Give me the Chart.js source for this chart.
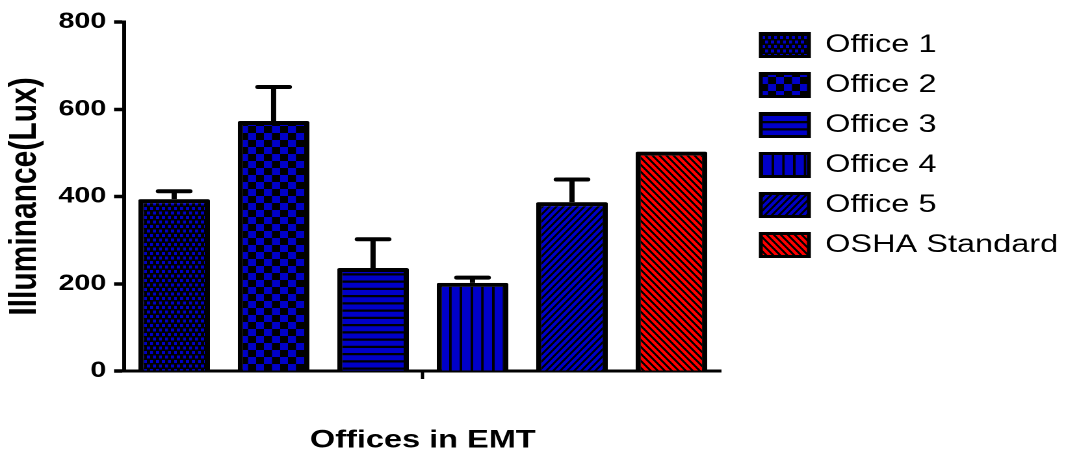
<!DOCTYPE html>
<html><head><meta charset="utf-8">
<script src="https://cdn.jsdelivr.net/npm/chart.js@4"></script>
<style>html,body{margin:0;padding:0;background:#fff;overflow:hidden}</style>
</head><body>
<canvas id="c" width="820" height="453" style="width:1066px;height:453px;display:block"></canvas>
<script>
const categories = [''];
const seriesNames = ['Office 1', 'Office 2', 'Office 3', 'Office 4', 'Office 5', 'OSHA Standard'];
const meanLux = [394, 573, 236, 202, 387, 503];
const errorLux = [18, 78, 66, 12, 52, 0];
const yTicks = [0, 200, 400, 600, 800];
const xTitle = 'Offices in EMT';
const yTitle = 'Illuminance(Lux)';

const FONT = "'Liberation Sans', Arial, sans-serif";
const BLUE = '#0000C8', BLACK = '#000000', RED = '#FF0000';
const SX = 1066 / 820;   // canvas is displayed stretched horizontally
const K = 4;

function makePattern(w, h, draw) {
  const c = document.createElement('canvas');
  c.width = Math.round(w * K); c.height = Math.round(h * K);
  const g = c.getContext('2d');
  g.scale(c.width / w, c.height / h);
  draw(g, w, h);
  const p = document.createElement('canvas').getContext('2d').createPattern(c, 'repeat');
  p.setTransform(new DOMMatrix([(w / SX) / c.width, 0, 0, h / c.height, 0, 0]));
  return p;
}
function stripes(g, w, dir, bg, lw) {
  g.fillStyle = bg; g.fillRect(0, 0, w, w);
  g.strokeStyle = BLACK; g.lineWidth = lw; g.beginPath();
  for (const c of [-w, 0, w, 2 * w]) {
    if (dir === '/') { g.moveTo(c + 1, -1); g.lineTo(c - w - 1, w + 1); }
    else { g.moveTo(c - 1, -1); g.lineTo(c + w + 1, w + 1); }
  }
  g.stroke();
}
const patterns = [
  makePattern(6, 9, (g) => { g.fillStyle = BLACK; g.fillRect(0, 0, 6, 9); g.fillStyle = BLUE; g.fillRect(0, 0, 3, 3); g.fillRect(3, 4.5, 3, 3); }),
  makePattern(16, 14, (g) => { g.fillStyle = BLACK; g.fillRect(0, 0, 16, 14); g.fillStyle = BLUE; g.fillRect(0, 0, 8, 7); g.fillRect(8, 7, 8, 7); }),
  makePattern(1, 7.25, (g) => { g.fillStyle = BLUE; g.fillRect(0, 0, 1, 7.25); g.fillStyle = BLACK; g.fillRect(0, 5, 1, 2.25); }),
  makePattern(10.75, 1, (g) => { g.fillStyle = BLUE; g.fillRect(0, 0, 10.75, 1); g.fillStyle = BLACK; g.fillRect(8.25, 0, 2.5, 1); }),
  makePattern(7, 7, (g) => stripes(g, 7, '/', BLUE, 2)),
  makePattern(7, 7, (g) => stripes(g, 7, '\\', RED, 2))
];

const errorBars = {
  id: 'errorBars',
  afterDatasetsDraw(chart) {
    const ctx = chart.ctx, y = chart.scales.y;
    ctx.save();
    ctx.strokeStyle = BLACK; ctx.lineWidth = 4;
    chart.data.datasets.forEach((ds, i) => {
      const err = errorLux[i];
      if (!err) return;
      chart.getDatasetMeta(i).data.forEach((bar, j) => {
        const top = y.getPixelForValue(ds.data[j] + err);
        const half = bar.width * 0.22;
        ctx.lineCap = 'butt';
        ctx.beginPath(); ctx.moveTo(bar.x, bar.y); ctx.lineTo(bar.x, top); ctx.stroke();
        ctx.lineCap = 'round';
        ctx.beginPath(); ctx.moveTo(bar.x - half, top); ctx.lineTo(bar.x + half, top); ctx.stroke();
      });
    });
    ctx.restore();
  }
};

new Chart(document.getElementById('c'), {
  type: 'bar',
  data: {
    labels: categories,
    datasets: seriesNames.map((name, i) => ({
      label: name,
      data: [meanLux[i]],
      backgroundColor: patterns[i],
      borderColor: BLACK,
      borderWidth: 4,
      borderSkipped: 'start',
      borderRadius: 1.5,
      categoryPercentage: 1.0,
      barPercentage: 0.72
    }))
  },
  plugins: [errorBars],
  options: {
    responsive: false,
    devicePixelRatio: 2,
    animation: false,
    layout: { padding: { top: 17.5, right: -4, bottom: 0, left: 0 } },
    plugins: {
      tooltip: { enabled: false },
      legend: {
        position: 'right',
        align: 'start',
        maxWidth: 320,
        labels: {
          boxWidth: 37, boxHeight: 23, padding: 15, color: BLACK,
          font: { family: FONT, size: 25 },
          generateLabels: (chart) => Chart.defaults.plugins.legend.labels.generateLabels(chart).map(l => Object.assign(l, { lineWidth: 3 }))
        }
      }
    },
    scales: {
      x: {
        z: 1,
        border: { display: true, color: BLACK, width: 3 },
        grid: { display: true, drawOnChartArea: false, drawTicks: true, tickLength: 8, tickWidth: 2.5, tickColor: BLACK, offset: false },
        ticks: { display: false },
        title: { display: true, text: xTitle, color: BLACK, font: { family: FONT, size: 25, weight: 'bold', lineHeight: 1 }, padding: { top: 49, bottom: 0 } }
      },
      y: {
        min: 0, max: 800,
        afterBuildTicks: (s) => { s.ticks = yTicks.map(v => ({ value: v })); },
        afterFit: (s) => { s.paddingTop = 22; },
        border: { display: true, color: BLACK, width: 3 },
        grid: { drawOnChartArea: false, drawTicks: true, tickLength: 8, tickWidth: 3.5, tickColor: BLACK },
        ticks: { color: BLACK, padding: 6, font: { family: FONT, size: 22, weight: 'bold' } },
        title: { display: true, text: yTitle, color: BLACK, font: { family: FONT, size: 30, weight: 'bold', lineHeight: 1 }, padding: { top: 4, bottom: 5 } }
      },
      gap: {
        type: 'linear', position: 'right', display: true,
        grid: { display: false, drawTicks: false }, border: { display: false }, ticks: { display: false },
        afterFit: (s) => { s.width = 15.5; }
      }
    }
  }
});
</script>
</body></html>
